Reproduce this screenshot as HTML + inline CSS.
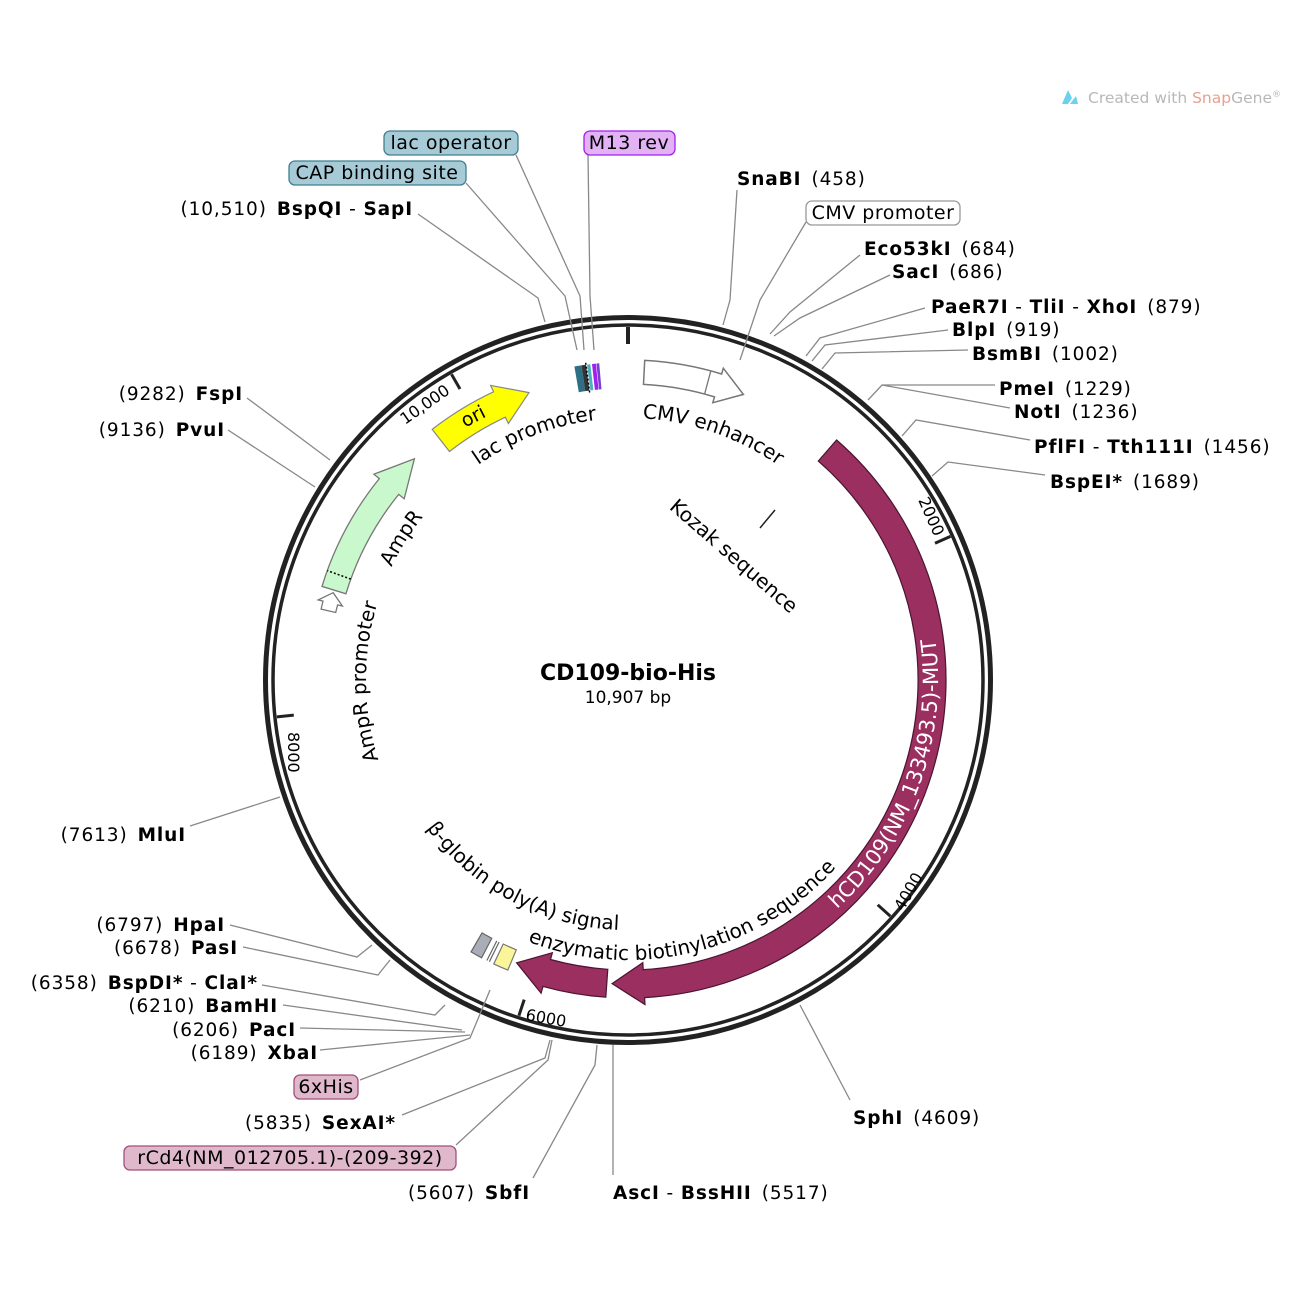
<!DOCTYPE html>
<html><head><meta charset="utf-8">
<style>
html,body{margin:0;padding:0;background:#fff;}
svg{display:block;font-family:"DejaVu Sans","Liberation Sans",sans-serif;}
.b{font-weight:bold;}
.l{font-size:18.5px;fill:#000;letter-spacing:0.9px;}
.ln{stroke:#888;stroke-width:1.3;fill:none;}
.bx{font-size:19px;letter-spacing:0.5px;}
</style></head>
<body>
<svg id="s" width="1300" height="1300" viewBox="0 0 1300 1300" xmlns="http://www.w3.org/2000/svg">
<defs>
<path id="pLac" d="M 628 942 A 262 262 0 0 1 628 418 A 262 262 0 0 1 628 942"/>
<path id="pCD" d="M 628 990 A 310 310 0 0 0 628 370" />
<path id="pEnz" d="M 348 680 A 280 280 0 0 0 908 680" />
<path id="pBeta" d="M 378 680 A 250 250 0 0 0 878 680" />
</defs>
<g id="g"></g>
<circle cx="628" cy="680" r="362.5" fill="none" stroke="#222" stroke-width="5"/>
<circle cx="628" cy="680" r="355" fill="none" stroke="#222" stroke-width="3.5"/>

<polyline class="ln" points="737,190 730,300 723,325"/>
<polyline class="ln" points="806,222 760,300 740,360"/>
<polyline class="ln" points="860,255 790,312 770,334"/>
<polyline class="ln" points="890,275 800,318 774,336"/>
<polyline class="ln" points="925,308 820,338 806,356"/>
<polyline class="ln" points="948,330 825,345 812,361"/>
<polyline class="ln" points="968,350 835,353 822,369"/>
<polyline class="ln" points="995,385 882,385 868,400"/>
<polyline class="ln" points="1010,408 882,385"/>
<polyline class="ln" points="1030,440 916,420 902,436"/>
<polyline class="ln" points="1045,475 948,462 932,476"/>
<polyline class="ln" points="850,1100 800,1005"/>
<polyline class="ln" points="613,1175 613,1045"/>
<polyline class="ln" points="533,1178 595,1065 597,1045"/>
<polyline class="ln" points="456,1145 548,1060 552,1040"/>
<polyline class="ln" points="402,1115 545,1058 550,1040"/>
<polyline class="ln" points="360,1080 470,1038 490,990"/>
<polyline class="ln" points="320,1050 470,1035"/>
<polyline class="ln" points="300,1028 465,1032"/>
<polyline class="ln" points="283,1005 462,1030"/>
<polyline class="ln" points="262,985 435,1015 445,1005"/>
<polyline class="ln" points="243,947 378,975 390,960"/>
<polyline class="ln" points="230,925 357,957 372,945"/>
<polyline class="ln" points="190,826 280,797"/>
<polyline class="ln" points="228,430 315,487"/>
<polyline class="ln" points="247,398 330,460"/>
<polyline class="ln" points="418,214 538,298 545,322"/>
<polyline class="ln" points="466,183 565,296 577,350"/>
<polyline class="ln" points="516,155 580,296 584,350"/>
<polyline class="ln" points="588,155 590,296 594,350"/>
<line x1="760" y1="528" x2="775" y2="510" stroke="#222" stroke-width="1.5"/>

<text font-size="20"><textPath href="#pLac" startOffset="44.2%" text-anchor="middle">lac promoter</textPath></text>
<text font-size="20"><textPath href="#pLac" startOffset="55.3%" text-anchor="middle">CMV enhancer</textPath></text>
<text font-size="20"><textPath href="#pLac" startOffset="33.9%" text-anchor="middle">AmpR</textPath></text>
<text font-size="20"><textPath href="#pLac" startOffset="24.9%" text-anchor="middle">AmpR promoter</textPath></text>
<text font-size="20"><textPath href="#pEnz" startOffset="57.5%" text-anchor="middle">enzymatic biotinylation sequence</textPath></text>
<text font-size="20"><textPath href="#pBeta" startOffset="34.5%" text-anchor="middle">β-globin poly(A) signal</textPath></text>
<text font-size="20" transform="translate(733,557) rotate(41)" text-anchor="middle" dominant-baseline="middle">Kozak sequence</text>

<text x="628" y="680" font-size="22" class="b" text-anchor="middle">CD109-bio-His</text>
<text x="628" y="703" font-size="17" text-anchor="middle">10,907 bp</text>

<text font-size="16" transform="translate(918,500) rotate(66)">2000</text>
<text font-size="16" transform="translate(903,912) rotate(-60)">4000</text>
<text font-size="16" transform="translate(525,1020) rotate(10)">6000</text>
<text font-size="16" transform="translate(288,732) rotate(90)">8000</text>
<text font-size="16" transform="translate(405,425) rotate(-35)">10,000</text>

<g class="l">
<text x="737" y="185"><tspan class="b">SnaBI</tspan><tspan dx="10">(458)</tspan></text>
<text x="864" y="255"><tspan class="b">Eco53kI</tspan><tspan dx="10">(684)</tspan></text>
<text x="892" y="278"><tspan class="b">SacI</tspan><tspan dx="10">(686)</tspan></text>
<text x="931" y="313"><tspan class="b">PaeR7I</tspan> - <tspan class="b">TliI</tspan> - <tspan class="b">XhoI</tspan><tspan dx="10">(879)</tspan></text>
<text x="952" y="336"><tspan class="b">BlpI</tspan><tspan dx="10">(919)</tspan></text>
<text x="972" y="360"><tspan class="b">BsmBI</tspan><tspan dx="10">(1002)</tspan></text>
<text x="999" y="395"><tspan class="b">PmeI</tspan><tspan dx="10">(1229)</tspan></text>
<text x="1014" y="418"><tspan class="b">NotI</tspan><tspan dx="10">(1236)</tspan></text>
<text x="1034" y="453"><tspan class="b">PflFI</tspan> - <tspan class="b">Tth111I</tspan><tspan dx="10">(1456)</tspan></text>
<text x="1050" y="488"><tspan class="b">BspEI*</tspan><tspan dx="10">(1689)</tspan></text>
<text x="853" y="1124"><tspan class="b">SphI</tspan><tspan dx="10">(4609)</tspan></text>
<text x="613" y="1199"><tspan class="b">AscI</tspan> - <tspan class="b">BssHII</tspan><tspan dx="10">(5517)</tspan></text>
<text x="530" y="1199" text-anchor="end">(5607)<tspan dx="10" class="b">SbfI</tspan></text>
<text x="396" y="1129" text-anchor="end">(5835)<tspan dx="10" class="b">SexAI*</tspan></text>
<text x="318" y="1059" text-anchor="end">(6189)<tspan dx="10" class="b">XbaI</tspan></text>
<text x="296" y="1036" text-anchor="end">(6206)<tspan dx="10" class="b">PacI</tspan></text>
<text x="278" y="1012" text-anchor="end">(6210)<tspan dx="10" class="b">BamHI</tspan></text>
<text x="258" y="989" text-anchor="end">(6358)<tspan dx="10" class="b">BspDI*</tspan> - <tspan class="b">ClaI*</tspan></text>
<text x="238" y="954" text-anchor="end">(6678)<tspan dx="10" class="b">PasI</tspan></text>
<text x="225" y="931" text-anchor="end">(6797)<tspan dx="10" class="b">HpaI</tspan></text>
<text x="186" y="841" text-anchor="end">(7613)<tspan dx="10" class="b">MluI</tspan></text>
<text x="225" y="436" text-anchor="end">(9136)<tspan dx="10" class="b">PvuI</tspan></text>
<text x="243" y="400" text-anchor="end">(9282)<tspan dx="10" class="b">FspI</tspan></text>
<text x="413" y="215" text-anchor="end">(10,510)<tspan dx="10" class="b">BspQI</tspan> - <tspan class="b">SapI</tspan></text>
</g>

<rect x="806" y="201" width="154" height="24" rx="6" fill="#fff" stroke="#999" stroke-width="1.3"/>
<text x="883" y="219" class="bx" text-anchor="middle">CMV promoter</text>
<rect x="289" y="161" width="177" height="24" rx="6" fill="#a6cbd6" stroke="#3f7f90" stroke-width="1.3"/>
<text x="377" y="179" class="bx" text-anchor="middle">CAP binding site</text>
<rect x="384" y="131" width="134" height="24" rx="6" fill="#a6cbd6" stroke="#3f7f90" stroke-width="1.3"/>
<text x="451" y="149" class="bx" text-anchor="middle">lac operator</text>
<rect x="584" y="131" width="91" height="24" rx="6" fill="#e2b2f5" stroke="#a020f0" stroke-width="1.3"/>
<text x="629" y="149" class="bx" text-anchor="middle">M13 rev</text>
<rect x="294" y="1075" width="64" height="24" rx="6" fill="#e0b8cc" stroke="#a05078" stroke-width="1.3"/>
<text x="326" y="1093" class="bx" text-anchor="middle">6xHis</text>
<rect x="124" y="1146" width="332" height="24" rx="6" fill="#e0b8cc" stroke="#a05078" stroke-width="1.3"/>
<text x="290" y="1164" class="bx" text-anchor="middle">rCd4(NM_012705.1)-(209-392)</text>

<path d="M1062,104 L1068,90 L1072,98 L1068,104 Z M1070,104 L1076,96 L1078,104Z" fill="#6cd0ef"/>
<text x="1088" y="103" font-size="15.5" fill="#b8b8b8">Created with <tspan fill="#e9a090">Snap</tspan>Gene<tspan font-size="9" dy="-6">®</tspan></text>
<g id="fg"></g>
</svg>
<script>
(function(){
var C=[628,680];
function P(a,r){a=a*Math.PI/180;return [(C[0]+r*Math.sin(a)).toFixed(1),(C[1]-r*Math.cos(a)).toFixed(1)];}
function arc(a0,a1,r){var p=P(a1,r);var large=Math.abs(a1-a0)>180?1:0;var sw=a1>a0?1:0;return " A "+r+" "+r+" 0 "+large+" "+sw+" "+p[0]+" "+p[1];}
function arrow(a0,a1,ri,ro,h,ex){
 var d=a1>a0?1:-1;var ab=a1-d*h;var rm=(ri+ro)/2;
 return "M "+P(a0,ri).join(" ")+arc(a0,ab,ri)+" L "+P(ab,ri-ex).join(" ")+" L "+P(a1,rm).join(" ")+" L "+P(ab,ro+ex).join(" ")+" L "+P(ab,ro).join(" ")+arc(ab,a0,ro)+" Z";}
function band(a0,a1,ri,ro){return "M "+P(a0,ri).join(" ")+arc(a0,a1,ri)+" L "+P(a1,ro).join(" ")+arc(a1,a0,ro)+" Z";}
var NS="http://www.w3.org/2000/svg";var g=document.getElementById("g");var fg=document.getElementById("fg");
function add(par,tag,at){var e=document.createElementNS(NS,tag);for(var k in at)e.setAttribute(k,at[k]);par.appendChild(e);return e;}
function rl(a,r1,r2,at){var p=P(a,r1),q=P(a,r2);at.x1=p[0];at.y1=p[1];at.x2=q[0];at.y2=q[1];add(g,"line",at);}
[[0,0],[66.0,1],[132.0,1],[198.0,1],[264.0,1],[330.0,1]].forEach(function(t){rl(t[0],353,336,{stroke:"#222","stroke-width":t[1]?3:4});});
add(g,"path",{d:arrow(41,183,290,318,6,7),fill:"#9a2f60",stroke:"#4a1530","stroke-width":1.2});
add(g,"path",{d:arrow(184,201.5,290,318,6,7),fill:"#9a2f60",stroke:"#4a1530","stroke-width":1.2});
add(g,"path",{d:band(202.5,205.3,292,314),fill:"#fbf59a",stroke:"#777","stroke-width":1.2});
add(g,"path",{d:band(207.8,210,292,314),fill:"#a8adb6",stroke:"#666","stroke-width":1.2});
rl(206.2,292,314,{stroke:"#666","stroke-width":1.2});rl(206.7,292,314,{stroke:"#666","stroke-width":1.2});
add(g,"path",{d:arrow(3,22,296,320,5,6),fill:"#fff",stroke:"#777","stroke-width":1.5});
rl(15,296,320,{stroke:"#777","stroke-width":1.3});
add(g,"path",{d:arrow(322,341,290,318,6,7),fill:"#ffff00",stroke:"#888","stroke-width":1.2});
add(g,"path",{d:arrow(287,316,295,320,7,7),fill:"#c8f8cc",stroke:"#777","stroke-width":1.3});
rl(290,295,320,{stroke:"#000","stroke-width":1.5,"stroke-dasharray":"2,2"});
add(g,"path",{d:arrow(283,286.5,300,315,2,5),fill:"#fff",stroke:"#777","stroke-width":1.3});
[[350.3,351.6,"#2d6f85"],[351.6,352.4,"#333"],[352.6,353.2,"#4bb0c0"],[353.5,354.2,"#a020f0"],[354.3,354.8,"#7a3fd0"]].forEach(function(m){add(g,"path",{d:band(m[0],m[1],292,318),fill:m[2],stroke:"none"});});
rl(352.4,290,320,{stroke:"#000","stroke-width":1.5,"stroke-dasharray":"2,2"});
var t=add(fg,"text",{"font-size":"21",fill:"#fff"});var tp=add(t,"textPath",{href:"#pCD",startOffset:"38.9%","text-anchor":"middle"});tp.textContent="hCD109(NM_133493.5)-MUT";
var o=add(fg,"text",{"font-size":"19",transform:"translate(476,422) rotate(-27)","text-anchor":"middle"});o.textContent="ori";
})();
</script>
</body></html>
